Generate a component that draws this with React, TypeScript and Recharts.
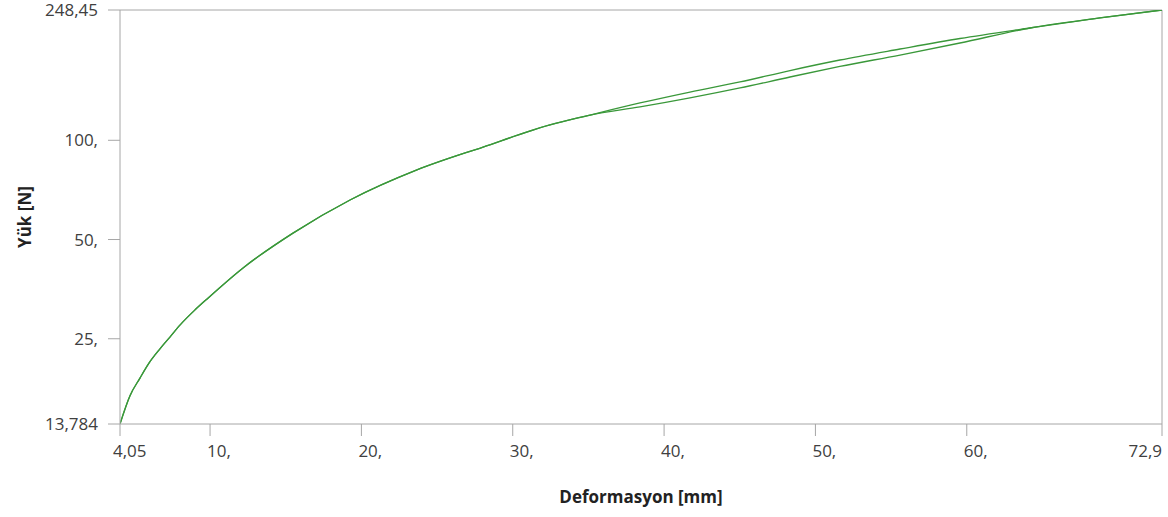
import React from "react";
import {
  LineChart,
  Line,
  XAxis,
  YAxis,
  ReferenceLine,
} from "recharts";

// deformation (mm)
const deformation = [
  4.05, 4.71, 5.37, 6.03, 6.69, 7.35, 8.01, 9.01, 9.86, 12.18, 15.48, 19.25,
  23.67, 28.04, 32.46, 35.11, 38.41, 41.71, 45.02, 48.32, 51.62, 55.59, 59.55,
  64.18, 68.8, 72.9,
];
// lower branch (loading), N
const loadLower = [
  13.784, 16.8, 19.0, 21.3, 23.3, 25.3, 27.5, 30.6, 33.2, 41.0, 52.3, 65.9,
  81.3, 95.4, 111.3, 119.3, 126.2, 134.4, 144.1, 155.6, 167.5, 181.4, 197.3,
  219.1, 235.0, 248.45,
];
// upper branch (unloading), N
const loadUpper = [
  13.784, 16.8, 19.0, 21.3, 23.3, 25.3, 27.5, 30.6, 33.2, 41.0, 52.3, 65.9,
  81.3, 95.4, 111.3, 119.3, 129.8, 140.1, 150.3, 162.8, 175.2, 189.2, 203.6,
  219.1, 235.0, 248.45,
];

const xTicks = [4.05, 10, 20, 30, 40, 50, 60, 72.9];
const yTicks = [13.784, 25, 50, 100, 248.45];

const lowerData = deformation.map((x, i) => ({ x, y: loadLower[i] }));
const upperData = deformation.map((x, i) => ({ x, y: loadUpper[i] }));

const fmt = (v: number) => {
  const s = String(v).replace(".", ",");
  return s.includes(",") ? s : s + ",";
};

const FONT = "'Open Sans', 'Noto Sans', sans-serif";
const AXIS = "#a6a6a6";
const GREEN = "#3a983a";

const XTick = (props: any) => {
  const { x, y, payload, index } = props;
  const last = index === xTicks.length - 1;
  return (
    <text
      x={last ? x : index === 0 ? x - 7 : x - 3}
      y={y}
      dy="0.71em"
      textAnchor={last ? "end" : "start"}
      fill="#404040"
      fontSize={17}
      fontFamily={FONT}
    >
      {fmt(payload.value)}
    </text>
  );
};

const YTick = (props: any) => {
  const { x, y, payload } = props;
  return (
    <text
      x={x}
      y={y}
      dy="0.36em"
      textAnchor="end"
      fill="#404040"
      fontSize={17}
      fontFamily={FONT}
    >
      {fmt(payload.value)}
    </text>
  );
};

const XLabel = (props: any) => {
  const vb = props.viewBox || {};
  return (
    <text
      x={vb.x + vb.width / 2}
      y={(vb.y || 0) + 79}
      textAnchor="middle"
      fill="#222"
      fontSize={17}
      fontWeight="bold"
      fontFamily={FONT}
    >
      Deformasyon [mm]
    </text>
  );
};

const YLabel = (props: any) => {
  const vb = props.viewBox || {};
  const cx = 25;
  const cy = vb.y + vb.height / 2;
  return (
    <text
      x={cx}
      y={cy}
      dy="0.36em"
      textAnchor="middle"
      transform={`rotate(-90 ${cx} ${cy})`}
      fill="#222"
      fontSize={17}
      fontWeight="bold"
      fontFamily={FONT}
    >
      Yük [N]
    </text>
  );
};

export default function App() {
  return (
    <div style={{ position: "absolute", left: 0, top: 0, background: "#fff" }}>
      <LineChart
        width={1168}
        height={517}
        margin={{ top: 10, right: 6, bottom: 0, left: 0 }}
      >
        <XAxis
          type="number"
          dataKey="x"
          domain={[4.05, 72.9]}
          ticks={xTicks}
          interval={0}
          allowDataOverflow
          height={93}
          tickSize={12}
          tickMargin={9}
          stroke={AXIS}
          tick={<XTick />}
          label={<XLabel />}
        />
        <YAxis
          type="number"
          dataKey="y"
          scale="log"
          domain={[13.784, 248.45]}
          ticks={yTicks}
          interval={0}
          allowDataOverflow
          width={120}
          tickSize={12}
          tickMargin={10}
          stroke={AXIS}
          tick={<YTick />}
          label={<YLabel />}
        />
        <ReferenceLine y={248.45} stroke={AXIS} strokeWidth={1} />
        <ReferenceLine x={72.9} stroke={AXIS} strokeWidth={1} />
        <Line
          data={lowerData}
          dataKey="y"
          type="monotone"
          stroke={GREEN}
          strokeWidth={1.3}
          dot={false}
          isAnimationActive={false}
        />
        <Line
          data={upperData}
          dataKey="y"
          type="monotone"
          stroke={GREEN}
          strokeWidth={1.3}
          dot={false}
          isAnimationActive={false}
        />
      </LineChart>
    </div>
  );
}
